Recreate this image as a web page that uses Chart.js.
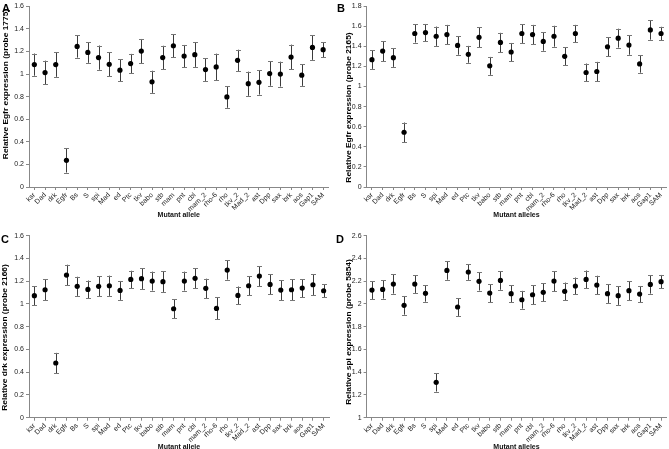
<!DOCTYPE html>
<html><head><meta charset="utf-8">
<script src="https://cdn.jsdelivr.net/npm/chart.js@4.4.1/dist/chart.umd.min.js"></script>
<style>
html,body{margin:0;padding:0;background:#fff;overflow:hidden;width:669px;height:449px;}
.p{position:absolute;}
canvas{display:block;}
</style></head><body>
<div class="p" style="left:0;top:0"><canvas id="cA" width="335" height="225"></canvas></div>
<div class="p" style="left:335px;top:0"><canvas id="cB" width="334" height="225"></canvas></div>
<div class="p" style="left:0;top:225px"><canvas id="cC" width="335" height="232"></canvas></div>
<div class="p" style="left:335px;top:225px"><canvas id="cD" width="334" height="232"></canvas></div>
<script>
// ---- data ----
const categories = ['ksr','Dad','drk','Egfr','Bs','S','spi','Mad','ed','Ptc','tkv','babo','stb','mam','pnt','cbl','mam_2','rho-6','rho','tkv_2','Mad_2','ast','Dpp','sax','brk','aos','Gap1','SAM'];

const egfr1775Values = [1.083,1.013,1.083,0.236,1.244,1.191,1.145,1.086,1.034,1.092,1.203,0.931,1.145,1.250,1.159,1.171,1.039,1.063,0.797,1.121,0.914,0.926,1.004,0.999,1.150,0.990,1.235,1.215];
const egfr1775Errors = [0.098,0.105,0.108,0.108,0.099,0.092,0.107,0.105,0.098,0.086,0.107,0.098,0.105,0.100,0.098,0.108,0.100,0.117,0.096,0.094,0.107,0.108,0.108,0.110,0.110,0.095,0.110,0.065];

const egfr2165Values = [1.268,1.353,1.288,0.545,1.528,1.537,1.501,1.518,1.409,1.321,1.490,1.206,1.439,1.344,1.528,1.518,1.449,1.501,1.301,1.528,1.140,1.150,1.396,1.482,1.413,1.225,1.564,1.528];
const egfr2165Errors = [0.092,0.099,0.092,0.097,0.090,0.086,0.096,0.096,0.092,0.084,0.099,0.089,0.096,0.090,0.094,0.096,0.092,0.104,0.091,0.086,0.089,0.096,0.095,0.094,0.096,0.087,0.097,0.067];

const drk2166Values = [1.073,1.125,0.481,1.254,1.155,1.128,1.155,1.160,1.119,1.216,1.222,1.201,1.196,0.958,1.201,1.225,1.137,0.961,1.298,1.075,1.160,1.245,1.172,1.122,1.125,1.140,1.169,1.116];
const drk2166Errors = [0.084,0.090,0.089,0.091,0.084,0.078,0.088,0.089,0.083,0.076,0.090,0.083,0.090,0.084,0.083,0.087,0.085,0.097,0.084,0.078,0.084,0.087,0.088,0.087,0.091,0.079,0.090,0.059];

const spi5854Values = [2.122,2.128,2.175,1.988,2.175,2.093,1.311,2.295,1.973,2.281,2.199,2.096,2.207,2.090,2.037,2.081,2.102,2.201,2.111,2.158,2.216,2.166,2.090,2.073,2.117,2.087,2.172,2.196];
const spi5854Errors = [0.078,0.081,0.084,0.082,0.078,0.073,0.081,0.082,0.078,0.069,0.081,0.079,0.082,0.076,0.078,0.082,0.079,0.088,0.077,0.074,0.078,0.082,0.081,0.081,0.083,0.071,0.081,0.059];

const yTicksA = [0,0.2,0.4,0.6,0.8,1,1.2,1.4,1.6];
const yTicksB = [0,0.2,0.4,0.6,0.8,1,1.2,1.4,1.6,1.8];
const yTicksC = [0,0.2,0.4,0.6,0.8,1,1.2,1.4,1.6];
const yTicksD = [1,1.2,1.4,1.6,1.8,2,2.2,2.4,2.6];

const yTitleA = 'Relative Egfr expression (probe 1775)';
const yTitleB = 'Relative Egfr expression (probe 2165)';
const yTitleC = 'Relative drk expression (probe 2166)';
const yTitleD = 'Relative spi expression (probe 5854)';
const xTitleA = 'Mutant allele';
const xTitleB = 'Mutant alleles';
const xTitleC = 'Mutant allele';
const xTitleD = 'Mutant alleles';

Chart.defaults.font.family = "'Liberation Sans', Arial, Helvetica, sans-serif";

const errorBarPlugin = {
  id: 'errorBars',
  beforeDatasetsDraw(chart, args, opts) {
    const {ctx} = chart; const x = chart.scales.x, y = chart.scales.y;
    const vals = chart.data.datasets[0].data;
    ctx.save();
    vals.forEach((v, i) => {
      const e = opts.errors[i];
      const px = Math.round(x.getPixelForValue(i)) + 0.5;
      const yt = y.getPixelForValue(v + e), yb = y.getPixelForValue(v - e);
      ctx.lineWidth = 1;
      ctx.strokeStyle = '#3c3c3c';
      ctx.beginPath(); ctx.moveTo(px, yt); ctx.lineTo(px, yb); ctx.stroke();
      ctx.strokeStyle = '#777';
      ctx.beginPath();
      ctx.moveTo(px - 2.5, Math.round(yt) + 0.5); ctx.lineTo(px + 2.5, Math.round(yt) + 0.5);
      ctx.moveTo(px - 2.5, Math.round(yb) + 0.5); ctx.lineTo(px + 2.5, Math.round(yb) + 0.5);
      ctx.stroke();
    });
    ctx.restore();
  }
};

const panelTextPlugin = {
  id: 'panelText',
  afterDraw(chart, args, opts) {
    const {ctx} = chart;
    ctx.save();
    ctx.fillStyle = '#000';
    ctx.font = "bold 11px 'Liberation Sans', Arial, sans-serif";
    ctx.textAlign = 'left'; ctx.textBaseline = 'alphabetic';
    ctx.fillText(opts.letter, opts.letterX, opts.letterY);
    ctx.font = "bold 7px 'Liberation Sans', Arial, sans-serif";
    ctx.translate(opts.titleX, opts.titleY);
    ctx.rotate(-Math.PI / 2);
    ctx.scale(1.2, 1);
    ctx.textAlign = 'center'; ctx.textBaseline = 'middle';
    ctx.fillText(opts.title, 0, 0);
    ctx.restore();
  }
};

function makeChart(id, c) {
  const ticks = c.yTicks;
  new Chart(document.getElementById(id), {
    type: 'line',
    data: { labels: categories, datasets: [{ data: c.values, showLine: false, pointRadius: 2.6, pointHoverRadius: 2.6, pointBackgroundColor: '#000', pointBorderColor: '#000', pointBorderWidth: 0 }] },
    options: {
      responsive: false, animation: false, events: [],
      layout: { padding: { left: 0, right: c.padR, top: c.top, bottom: c.padB } },
      plugins: {
        legend: { display: false }, tooltip: { enabled: false },
        errorBars: { errors: c.errors },
        panelText: { letter: c.letter, letterX: c.letterX, letterY: c.letterY, title: c.yTitle, titleX: c.titleX, titleY: c.titleY }
      },
      scales: {
        x: {
          offset: true,
          grid: { display: true, drawOnChartArea: false, drawTicks: true, tickLength: 3, color: '#888' },
          border: { display: true, color: '#888' },
          ticks: { autoSkip: false, maxRotation: 45, minRotation: 45, font: { size: 7 }, color: '#222', padding: 1 },
          title: { display: true, text: c.xTitle, font: { size: 7, weight: 'bold' }, color: '#111', padding: { top: 0, bottom: c.titlePadB } },
          afterFit(s) { s.height = c.xH; }
        },
        y: {
          min: ticks[0], max: ticks[ticks.length - 1],
          grid: { display: true, drawOnChartArea: false, drawTicks: true, tickLength: 3, color: '#888' },
          border: { display: true, color: '#888' },
          ticks: { stepSize: ticks[1] - ticks[0], font: { size: 7 }, color: '#222', padding: 2,
                   callback: v => String(parseFloat(Number(v).toFixed(1))) },
          afterFit(s) { s.width = c.left; }
        }
      }
    },
    plugins: [errorBarPlugin, panelTextPlugin]
  });
}

makeChart('cA', { values: egfr1775Values, errors: egfr1775Errors, yTicks: yTicksA, xTitle: xTitleA, yTitle: yTitleA,
  letter: 'A', letterX: 2, letterY: 11.5, titleX: 6, titleY: 84,
  left: 29, padR: 6.5, top: 4, padB: 0, xH: 38, titlePadB: 5.8 });
makeChart('cB', { values: egfr2165Values, errors: egfr2165Errors, yTicks: yTicksB, xTitle: xTitleB, yTitle: yTitleB,
  letter: 'B', letterX: 2, letterY: 11.5, titleX: 13.8, titleY: 107.5,
  left: 31.6, padR: 1.6, top: 5, padB: 0, xH: 38, titlePadB: 5.8 });
makeChart('cC', { values: drk2166Values, errors: drk2166Errors, yTicks: yTicksC, xTitle: xTitleC, yTitle: yTitleC,
  letter: 'C', letterX: 1, letterY: 17.5, titleX: 5.5, titleY: 112.5,
  left: 29, padR: 6, top: 10.7, padB: 0, xH: 39.3, titlePadB: 5.3 });
makeChart('cD', { values: spi5854Values, errors: spi5854Errors, yTicks: yTicksD, xTitle: xTitleD, yTitle: yTitleD,
  letter: 'D', letterX: 1, letterY: 17.5, titleX: 13.8, titleY: 107,
  left: 31.6, padR: 1.6, top: 10.7, padB: 0, xH: 39.3, titlePadB: 5.3 });
</script>
</body></html>
